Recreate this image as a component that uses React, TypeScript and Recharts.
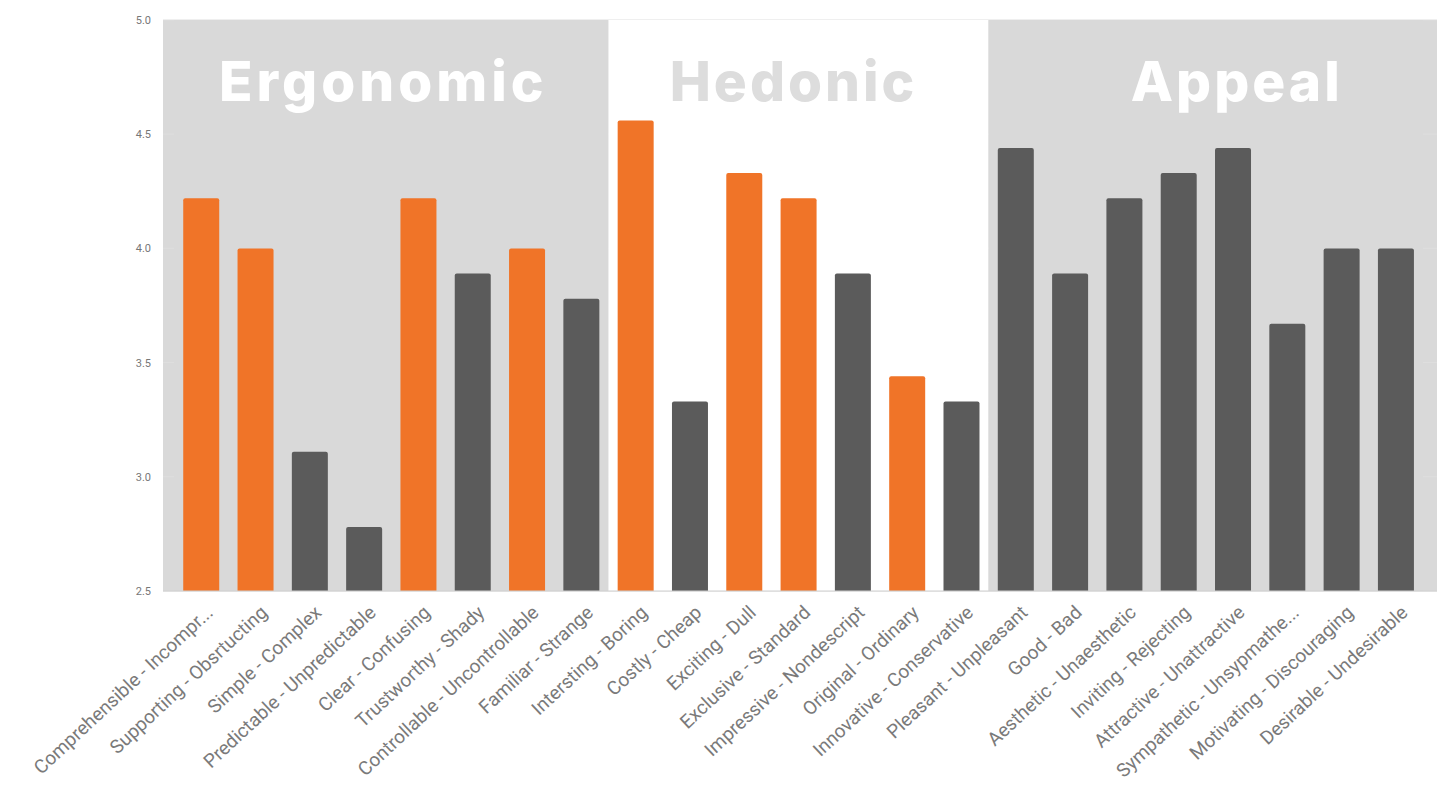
import { BarChart, Bar, XAxis, YAxis, CartesianGrid, ReferenceArea, Cell } from 'recharts'

const categories = [
  'Comprehensible - Incompr...',
  'Supporting - Obsrtucting',
  'Simple - Complex',
  'Predictable - Unpredictable',
  'Clear - Confusing',
  'Trustworthy - Shady',
  'Controllable - Uncontrollable',
  'Familiar - Strange',
  'Intersting - Boring',
  'Costly - Cheap',
  'Exciting - Dull',
  'Exclusive - Standard',
  'Impressive - Nondescript',
  'Original - Ordinary',
  'Innovative - Conservative',
  'Pleasant - Unpleasant',
  'Good - Bad',
  'Aesthetic - Unaesthetic',
  'Inviting - Rejecting',
  'Attractive - Unattractive',
  'Sympathetic - Unsypmathe...',
  'Motivating - Discouraging',
  'Desirable - Undesirable',
]

const scores = [
  4.22, 4.0, 3.11, 2.78, 4.22, 3.89, 4.0, 3.78,
  4.56, 3.33, 4.33, 4.22, 3.89, 3.44, 3.33,
  4.44, 3.89, 4.22, 4.33, 4.44, 3.67, 4.0, 4.0,
]

const highlighted = [
  true, true, false, false, true, false, true, false,
  true, false, true, true, false, true, false,
  false, false, false, false, false, false, false, false,
]

const yTicks = [2.5, 3.0, 3.5, 4.0, 4.5, 5.0]

const groups = [
  { name: 'Ergonomic', from: 'Comprehensible - Incompr...', to: 'Familiar - Strange' },
  { name: 'Hedonic', from: 'Intersting - Boring', to: 'Innovative - Conservative' },
  { name: 'Appeal', from: 'Pleasant - Unpleasant', to: 'Desirable - Undesirable' },
]

const data = categories.map((name, i) => ({ name, score: scores[i], hl: highlighted[i] }))

const ORANGE = '#f07428'
const DARK = '#5b5b5b'
const GREY_BG = '#d9d9d9'

const groupStyle: Record<string, { color: string; dx: number; spacing: number }> = {
  Ergonomic: { color: '#ffffff', dx: -8, spacing: 4 },
  Hedonic: { color: '#dddddd', dx: -5, spacing: 3 },
  Appeal: { color: '#ffffff', dx: 31, spacing: 3 },
}

function GroupLabel({ viewBox, value }: any) {
  if (!viewBox) return null
  const s = groupStyle[value]
  return (
    <text
      x={viewBox.x + viewBox.width / 2 + s.dx}
      y={viewBox.y + 81}
      textAnchor="middle"
      fill={s.color}
      fontFamily="Inter, 'Open Sans', sans-serif"
      fontWeight={800}
      fontSize={55}
      letterSpacing={s.spacing}
    >
      {value}
    </text>
  )
}

function AngledTick({ x, y, payload }: any) {
  return (
    <g transform={`translate(${x + 13},${y + 15})`}>
      <text
        x={0}
        y={0}
        textAnchor="end"
        fill="#7a7a7a"
        fontSize={19}
        fontFamily="Roboto, sans-serif"
        transform="rotate(-43)"
      >
        {payload.value}
      </text>
    </g>
  )
}

export default function App() {
  return (
    <BarChart
      width={1441}
      height={789}
      data={data}
      margin={{ top: 12, right: 12, left: 0, bottom: 0 }}
      barCategoryGap="17%"
    >
      <CartesianGrid fill={GREY_BG} horizontal={false} vertical={false} />
      {groups.map((g) => (
        <ReferenceArea
          key={g.name}
          x1={g.from}
          x2={g.to}
          y1={2.5}
          y2={5}
          fill={g.name === 'Hedonic' ? '#ffffff' : GREY_BG}
          fillOpacity={1}
          stroke="none"
          ifOverflow="visible"
          label={<GroupLabel value={g.name} />}
        />
      ))}
      <CartesianGrid stroke="#dedede" vertical={false} fill="none" />
      <XAxis
        dataKey="name"
        interval={0}
        height={206}
        padding={{ left: 11, right: 14 }}
        tickLine={false}
        axisLine={{ stroke: '#cfcfcf' }}
        tick={<AngledTick />}
      />
      <YAxis
        width={155}
        domain={[2.5, 5]}
        ticks={yTicks}
        tickFormatter={(v: number) => v.toFixed(1)}
        axisLine={false}
        tickLine={false}
        tickMargin={6}
        tick={{ fill: '#777777', fontSize: 11, fontFamily: 'Roboto, sans-serif' }}
      />
      <Bar dataKey="score" isAnimationActive={false} radius={[2, 2, 0, 0]}>
        {data.map((d) => (
          <Cell key={d.name} fill={d.hl ? ORANGE : DARK} />
        ))}
      </Bar>
    </BarChart>
  )
}
